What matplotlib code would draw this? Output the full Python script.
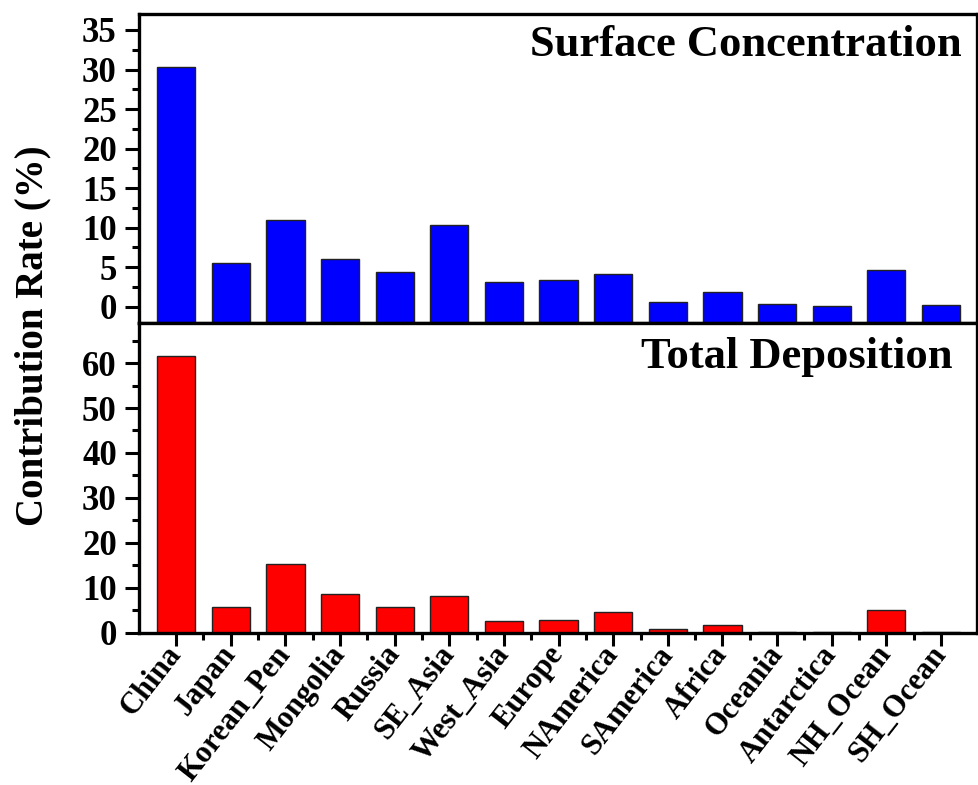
import matplotlib
matplotlib.use("Agg")
import matplotlib.pyplot as plt
import numpy as np
from matplotlib.ticker import MultipleLocator

plt.rcParams['font.family'] = ['Liberation Serif', 'DejaVu Serif']
plt.rcParams['font.weight'] = 'bold'

regions = ['China', 'Japan', 'Korean_Pen', 'Mongolia', 'Russia', 'SE_Asia',
           'West_Asia', 'Europe', 'NAmerica', 'SAmerica', 'Africa', 'Oceania',
           'Antarctica', 'NH_Ocean', 'SH_Ocean']

# 지표 농도 기여율 (%)
surface_conc = [30.3, 5.6, 11.0, 6.0, 4.4, 10.3, 3.1, 3.4, 4.1, 0.6, 1.9, 0.35, 0.15, 4.6, 0.2]
# 총 침적 기여율 (%)
total_depo = [61.6, 5.8, 15.2, 8.6, 5.8, 8.2, 2.6, 2.9, 4.7, 0.8, 1.7, 0.1, 0.05, 5.0, 0.05]

x = np.arange(len(regions))

fig = plt.figure(figsize=(9.79, 7.85), dpi=100)
ax1 = fig.add_axes([0.142, 0.589, 0.856, 0.393])
ax2 = fig.add_axes([0.142, 0.194, 0.856, 0.395], sharex=ax1)

# 위 패널
y1min, y1max = -2, 37
ax1.bar(x, np.array(surface_conc) - y1min, bottom=y1min, width=0.7,
        color='#0000ff', edgecolor='#222222', linewidth=1)
ax1.set_ylim(y1min, y1max)
ax1.yaxis.set_major_locator(MultipleLocator(5))
ax1.yaxis.set_minor_locator(MultipleLocator(2.5))
ax1.text(0.982, 0.965, 'Surface Concentration', transform=ax1.transAxes,
         ha='right', va='top', fontsize=32, fontweight='bold')
ax1.tick_params(axis='x', which='both', bottom=False, labelbottom=False)

# 아래 패널
ax2.bar(x, total_depo, width=0.7, color='#ff0000', edgecolor='#222222', linewidth=1)
ax2.set_ylim(0, 69)
ax2.yaxis.set_major_locator(MultipleLocator(10))
ax2.yaxis.set_minor_locator(MultipleLocator(5))
ax2.text(0.971, 0.955, 'Total Deposition', transform=ax2.transAxes,
         ha='right', va='top', fontsize=32, fontweight='bold')

ax2.set_xlim(-0.68, 14.66)
ax2.set_xticks(x)
ax2.set_xticks(x[:-1] + 0.5, minor=True)
ax2.set_xticklabels(regions, rotation=52, ha='right', rotation_mode='anchor',
                    va='center', fontsize=22, fontweight='bold')

for ax in (ax1, ax2):
    for s in ax.spines.values():
        s.set_linewidth(2.4)
    ax.tick_params(axis='y', which='major', direction='out', length=10, width=2.2,
                   labelsize=25, pad=6)
    ax.tick_params(axis='y', which='minor', direction='out', length=5, width=2.2)
    for lab in ax.get_yticklabels():
        lab.set_fontweight('bold')
ax2.tick_params(axis='x', which='major', direction='out', length=9, width=2.2, pad=3)
ax2.tick_params(axis='x', which='minor', direction='out', length=5, width=2.2)

fig.text(0.034, 0.573, 'Contribution Rate (%)', rotation=90, ha='center', va='center',
         fontsize=28, fontweight='bold')

fig.savefig('out.png', dpi=100)
